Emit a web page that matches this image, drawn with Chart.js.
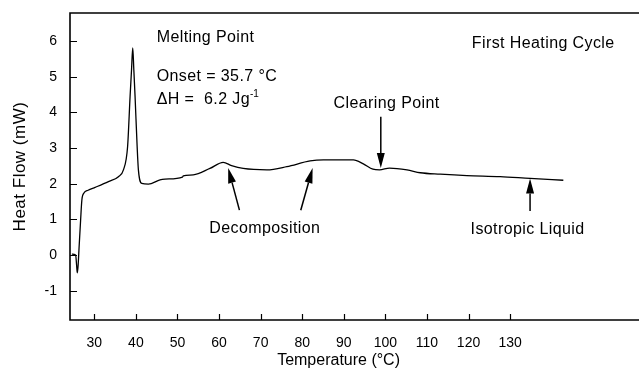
<!DOCTYPE html>
<html><head><meta charset="utf-8">
<script src="https://cdn.jsdelivr.net/npm/chart.js@4.4.0/dist/chart.umd.min.js"></script>
<style>html,body{margin:0;padding:0;background:#fff;overflow:hidden}canvas{display:block}</style>
</head><body>
<canvas id="c" width="639" height="375"></canvas>
<script>
// ---- data ----
const temperature = [24.6, 25.5, 25.75, 25.9, 26.1, 26.3, 26.7, 27.0, 27.5, 28.5, 30.2, 33.4, 35.8, 37.0, 38.0, 38.6, 38.95, 39.24, 39.5, 39.8, 40.3, 40.6, 41.4, 43.0, 45.8, 47.0, 51.2, 51.4, 53.8, 57.8, 61.0, 63.0, 65.8, 71.5, 76.3, 81.9, 85.1, 92.3, 94.7, 97.0, 98.6, 101.0, 105.2, 108.4, 113.2, 119.6, 127.6, 134.8, 142.8];
const heatFlow    = [0.03, 0.0, -0.3, -0.5, -0.3, 0.14, 0.98, 1.54, 1.74, 1.82, 1.90, 2.06, 2.20, 2.39, 3.04, 4.45, 5.20, 5.81, 5.20, 4.45, 3.04, 2.39, 2.01, 1.99, 2.11, 2.13, 2.19, 2.22, 2.25, 2.43, 2.60, 2.51, 2.43, 2.39, 2.48, 2.64, 2.67, 2.67, 2.56, 2.41, 2.39, 2.44, 2.39, 2.31, 2.27, 2.23, 2.20, 2.15, 2.10];
const xTickValues = [30, 40, 50, 60, 70, 80, 90, 100, 110, 120, 130];
const yTickValues = [-1, 0, 1, 2, 3, 4, 5, 6];
const xAxisTitle = 'Temperature (°C)';
const yAxisTitle = 'Heat Flow (mW)';

// ---- annotations (placed in data units) ----
const noteTexts = ['Melting Point', 'Onset = 35.7 °C', 'ΔH =  6.2 Jg', 'First Heating Cycle', 'Clearing Point', 'Decomposition', 'Isotropic Liquid'];
const noteX     = [45.0, 45.0, 45.0, 120.8, 100.3, 71.0, 134.2];
const noteY     = [6.09, 5.0, 4.35, 5.94, 4.26, 0.75, 0.72];
const noteAlign = ['left', 'left', 'left', 'left', 'center', 'center', 'center'];
const superscript = '-1';
// arrows: [fromX, fromY, tipX, tipY]
const arrowFromX = [64.9, 79.65, 98.9, 134.8];
const arrowFromY = [1.26, 1.26, 3.88, 1.24];
const arrowTipX  = [62.2, 82.5, 98.9, 134.8];
const arrowTipY  = [2.44, 2.44, 2.44, 2.15];

const FONT = '"Liberation Sans", Arial, Helvetica, sans-serif';

const points = temperature.map((t, i) => ({x: t, y: heatFlow[i]}));

const decor = {
  id: 'decor',
  afterDraw(chart) {
    const {ctx, chartArea: a, scales: {x, y}} = chart;
    ctx.save();
    ctx.strokeStyle = '#000';
    ctx.fillStyle = '#000';
    // frame: left, top, bottom
    ctx.lineWidth = 1.6;
    ctx.beginPath();
    ctx.moveTo(a.right + 2, a.top); ctx.lineTo(a.left, a.top);
    ctx.lineTo(a.left, a.bottom); ctx.lineTo(a.right + 2, a.bottom);
    ctx.stroke();
    // inward ticks
    ctx.lineWidth = 1.2;
    ctx.beginPath();
    yTickValues.forEach(v => { const py = Math.round(y.getPixelForValue(v)) + 0.5; ctx.moveTo(a.left, py); ctx.lineTo(a.left + 7, py); });
    xTickValues.forEach(v => { const px = Math.round(x.getPixelForValue(v)) + 0.5; ctx.moveTo(px, a.bottom); ctx.lineTo(px, a.bottom - 6); });
    ctx.stroke();
    // axis titles
    ctx.textBaseline = 'middle';
    ctx.textAlign = 'center';
    ctx.font = '16px ' + FONT;
    ctx.fillText(xAxisTitle, a.left + (a.right - a.left) * 0.472, a.bottom + 41);
    ctx.save();
    ctx.translate(20, (a.top + a.bottom) / 2);
    ctx.rotate(-Math.PI / 2);
    ctx.font = '17px ' + FONT;
    ctx.letterSpacing = '0.5px';
    ctx.fillText(yAxisTitle, 0, 0);
    ctx.restore();
    // notes
    ctx.font = '16px ' + FONT;
    ctx.letterSpacing = '0.4px';
    noteTexts.forEach((t, i) => {
      ctx.textAlign = noteAlign[i];
      const px = x.getPixelForValue(noteX[i]), py = y.getPixelForValue(noteY[i]);
      ctx.fillText(t, px, py);
      if (t.startsWith('ΔH')) {
        const w = ctx.measureText(t).width;
        ctx.save();
        ctx.font = '10px ' + FONT;
        ctx.letterSpacing = '0px';
        ctx.textAlign = 'left';
        ctx.fillText(superscript, px + w, py - 6);
        ctx.restore();
      }
    });
    ctx.letterSpacing = '0px';
    // arrows
    arrowFromX.forEach((fx, i) => {
      const x0 = x.getPixelForValue(fx), y0 = y.getPixelForValue(arrowFromY[i]);
      const x1 = x.getPixelForValue(arrowTipX[i]), y1 = y.getPixelForValue(arrowTipY[i]);
      const ang = Math.atan2(y1 - y0, x1 - x0);
      const L = 15, W = 4;
      const bx = x1 - L * Math.cos(ang), by = y1 - L * Math.sin(ang);
      ctx.lineWidth = 1.5;
      ctx.beginPath(); ctx.moveTo(x0, y0); ctx.lineTo(bx, by); ctx.stroke();
      ctx.beginPath();
      ctx.moveTo(x1, y1);
      ctx.lineTo(bx + W * Math.sin(ang), by - W * Math.cos(ang));
      ctx.lineTo(bx - W * Math.sin(ang), by + W * Math.cos(ang));
      ctx.closePath();
      ctx.fill();
    });
    ctx.restore();
  }
};

new Chart(document.getElementById('c'), {
  type: 'line',
  data: {
    datasets: [{
      data: points,
      borderColor: '#000',
      borderWidth: 1.3,
      pointRadius: 0,
      fill: false,
      cubicInterpolationMode: 'monotone'
    }]
  },
  options: {
    responsive: false,
    animation: false,
    devicePixelRatio: 1,
    layout: {padding: {top: 13, left: 0, right: 0, bottom: 0}},
    plugins: {legend: {display: false}, tooltip: {enabled: false}},
    scales: {
      x: {
        type: 'linear',
        min: 24.15, max: 161,
        afterFit(s) { s.height = 55; s.paddingLeft = 0; s.paddingRight = 0; },
        afterBuildTicks(s) { s.ticks = xTickValues.map(v => ({value: v})); },
        grid: {display: false, drawTicks: false},
        border: {display: false},
        ticks: {padding: 15, color: '#000', font: {size: 14, family: FONT}, maxRotation: 0, autoSkip: false}
      },
      y: {
        type: 'linear',
        min: -1.82, max: 6.79,
        afterFit(s) { s.width = 70; s.paddingTop = 0; s.paddingBottom = 0; },
        afterBuildTicks(s) { s.ticks = yTickValues.map(v => ({value: v})); },
        grid: {display: false, drawTicks: false},
        border: {display: false},
        ticks: {padding: 13, color: '#000', font: {size: 14, family: FONT}, autoSkip: false}
      }
    }
  },
  plugins: [decor]
});
</script>
</body></html>
